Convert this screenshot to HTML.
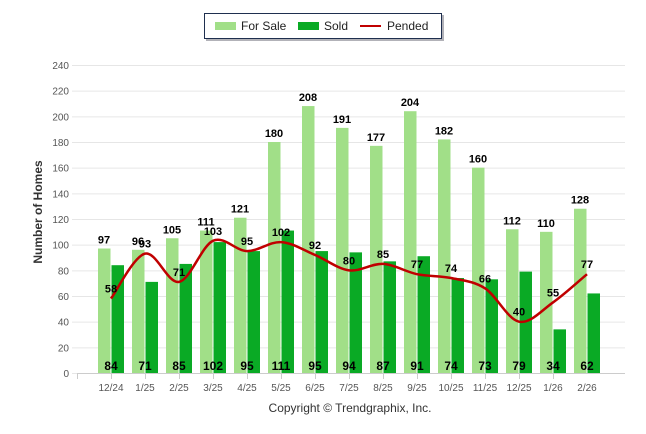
<!DOCTYPE html>
<html><head><meta charset="utf-8"><style>
body{margin:0;background:#fff;}
svg{display:block;font-family:"Liberation Sans",Arial,sans-serif;}
</style></head><body>
<svg id="chart" width="646" height="434">
<g id="grid"></g>
<g id="bars"></g>
<g id="line"></g>
<g id="labels"></g>
<text x="42" y="212" transform="rotate(-90 42 212)" text-anchor="middle" font-size="12" font-weight="bold" fill="#333">Number of Homes</text>
<text x="350" y="412" text-anchor="middle" font-size="12" fill="#333">Copyright © Trendgraphix, Inc.</text>
<g>
<rect x="206" y="15" width="238" height="26" fill="#223" opacity="0.35"/>
<rect x="204.5" y="13.5" width="237" height="25" fill="#fff" stroke="#1f2f4f"/>
<rect x="215" y="22" width="21" height="8" fill="#a1df88"/>
<text x="241" y="30" font-size="12" fill="#222">For Sale</text>
<rect x="298" y="22" width="21" height="8" fill="#0aaa25"/>
<text x="324" y="30" font-size="12" fill="#222">Sold</text>
<rect x="360" y="25" width="21" height="2" fill="#c00000"/>
<text x="387" y="30" font-size="12" fill="#222">Pended</text>
</g>
</svg>
<script>
const categories=["12/24","1/25","2/25","3/25","4/25","5/25","6/25","7/25","8/25","9/25","10/25","11/25","12/25","1/26","2/26"];
const forSale=[97,96,105,111,121,180,208,191,177,204,182,160,112,110,128];
const sold=[84,71,85,102,95,111,95,94,87,91,74,73,79,34,62];
const pended=[58,93,71,103,95,102,92,80,85,77,74,66,40,55,77];
const yTicks=[0,20,40,60,80,100,120,140,160,180,200,220,240];
const NS="http://www.w3.org/2000/svg";
function y(v){return 373-v*(308/240);}
function xc(i){return 111+34*i;}
function mk(tag,attrs,parent){const e=document.createElementNS(NS,tag);for(const k in attrs)e.setAttribute(k,attrs[k]);parent.appendChild(e);return e;}
const grid=document.getElementById('grid'),bars=document.getElementById('bars'),line=document.getElementById('line'),labels=document.getElementById('labels');
yTicks.forEach(t=>{
  const l=mk('line',{x1:72,x2:625,y1:y(t)+0.5,y2:y(t)+0.5,stroke:'#e6e6e6'},grid);
  
  
  const tx=mk('text',{x:69,y:y(t)+4,'text-anchor':'end','font-size':'10',fill:'#555'},grid);
  tx.textContent=t;
  
  
});
const ax=mk('line',{x1:77,x2:625,y1:373.5,y2:373.5,stroke:'#ccc'},grid);


categories.forEach((c,i)=>{
  const tk=mk('line',{x1:77.5+34*i,x2:77.5+34*i,y1:374,y2:379,stroke:'#ccc'},grid);
  
  
  const tx=mk('text',{x:xc(i),y:391,'text-anchor':'middle','font-size':'10',fill:'#555'},grid);
  tx.textContent=c;
  
  
  const b1=mk('rect',{x:xc(i)-13,y:y(forSale[i]),width:12.5,height:373-y(forSale[i]),fill:'#a1df88'},bars);
  
  
  const b2=mk('rect',{x:xc(i)+0.5,y:y(sold[i]),width:12.5,height:373-y(sold[i]),fill:'#0aaa25'},bars);
  
  
  const l1=mk('text',{x:xc(i)-7,y:y(forSale[i])-5,'text-anchor':'middle','font-size':'11','font-weight':'bold',fill:'#000'},labels);
  l1.textContent=forSale[i];
  
  
  const l2=mk('text',{x:xc(i),y:370,'text-anchor':'middle','font-size':'12','font-weight':'bold',fill:'#000'},labels);
  l2.textContent=sold[i];
  
  
  const l3=mk('text',{x:xc(i),y:y(pended[i])-6,'text-anchor':'middle','font-size':'11','font-weight':'bold',fill:'#000'},labels);
  l3.textContent=pended[i];
  
  
});
const pts=pended.map((v,i)=>[xc(i),y(v)]);
let d='M'+pts[0][0]+','+pts[0][1];
for(let i=0;i<pts.length-1;i++){
  const p0=pts[Math.max(0,i-1)],p1=pts[i],p2=pts[i+1],p3=pts[Math.min(pts.length-1,i+2)];
  const t=1/3;
  const c1=[p1[0]+(p2[0]-p0[0])*t/2,p1[1]+(p2[1]-p0[1])*t/2];
  const c2=[p2[0]-(p3[0]-p1[0])*t/2,p2[1]-(p3[1]-p1[1])*t/2];
  d+=' C'+c1+' '+c2+' '+p2;
}
const pl=mk('path',{d:d,fill:'none',stroke:'#c00000','stroke-width':2.5},line);


</script>
</body></html>
